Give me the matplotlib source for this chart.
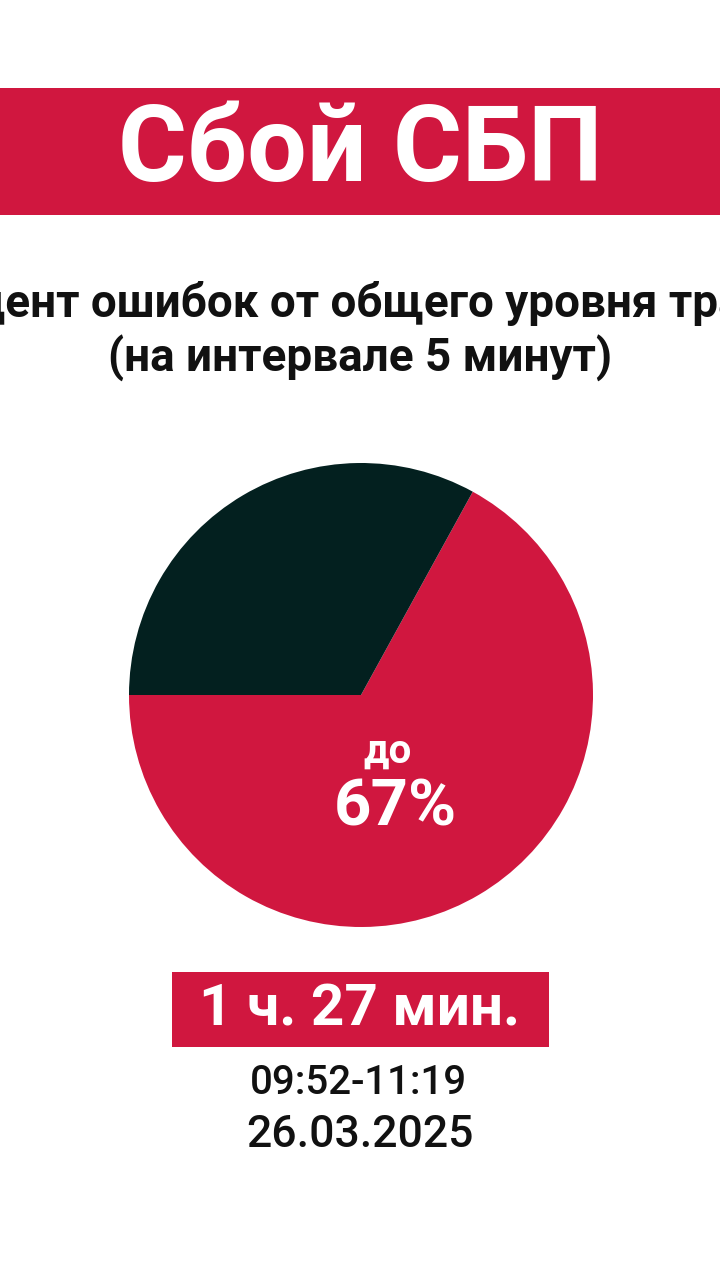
import matplotlib.pyplot as plt
from matplotlib.patches import Rectangle

# данные
title = "Сбой СБП"
subtitle = ["Процент ошибок от общего уровня транзакций", "(на интервале 5 минут)"]
shares = [67, 33]          # ошибки / остальное
share_colors = ["#D0173F", "#03201F"]
share_label = "до"
duration = "1 ч. 27 мин."
time_range = "09:52-11:19"
date = "26.03.2025"

RED = "#D0173F"
W, H = 720, 1280

plt.rcParams['font.family'] = ['Roboto', 'DejaVu Sans']

fig = plt.figure(figsize=(W / 100, H / 100), dpi=100)
fig.patch.set_facecolor("white")

# круговая диаграмма
cx, cy, r = 361, 695, 232
ax = fig.add_axes([(cx - r) / W, (H - cy - r) / H, 2 * r / W, 2 * r / H])
ax.pie(shares, colors=share_colors, startangle=180, counterclock=True,
       wedgeprops=dict(linewidth=0))
ax.set_xlim(-1, 1)
ax.set_ylim(-1, 1)
ax.axis("off")
ax.set_zorder(0)

# слой с текстом в пиксельных координатах (поверх диаграммы)
bg = fig.add_axes([0, 0, 1, 1])
bg.set_xlim(0, W)
bg.set_ylim(H, 0)
bg.axis("off")
bg.set_zorder(1)

# шапка
bg.add_patch(Rectangle((0, 88), W, 127, color=RED, lw=0))
bg.text(360, 153, title, color="white", fontsize=76, fontweight="bold",
        ha="center", va="center")

# подзаголовок (первая строка в оригинале обрезана по краям)
bg.text(408, 303, subtitle[0], color="#111111", fontsize=33, fontweight="bold",
        ha="center", va="center")
bg.text(360, 358, subtitle[1], color="#111111", fontsize=33, fontweight="bold",
        ha="center", va="center")

bg.text(388, 752, share_label, color="white", fontsize=29, fontweight="bold",
        ha="center", va="center")
bg.text(395, 808, f"{shares[0]}%", color="white", fontsize=47, fontweight="bold",
        ha="center", va="center")

# длительность
bg.add_patch(Rectangle((172, 972), 377, 75, color=RED, lw=0))
bg.text(360, 1010, duration, color="white", fontsize=42, fontweight="bold",
        ha="center", va="center")

bg.text(358, 1083, time_range, color="#111111", fontsize=29, fontweight="medium",
        ha="center", va="center")
bg.text(360, 1135, date, color="#111111", fontsize=32, fontweight="medium",
        ha="center", va="center")

fig.savefig("out.png", dpi=100)
